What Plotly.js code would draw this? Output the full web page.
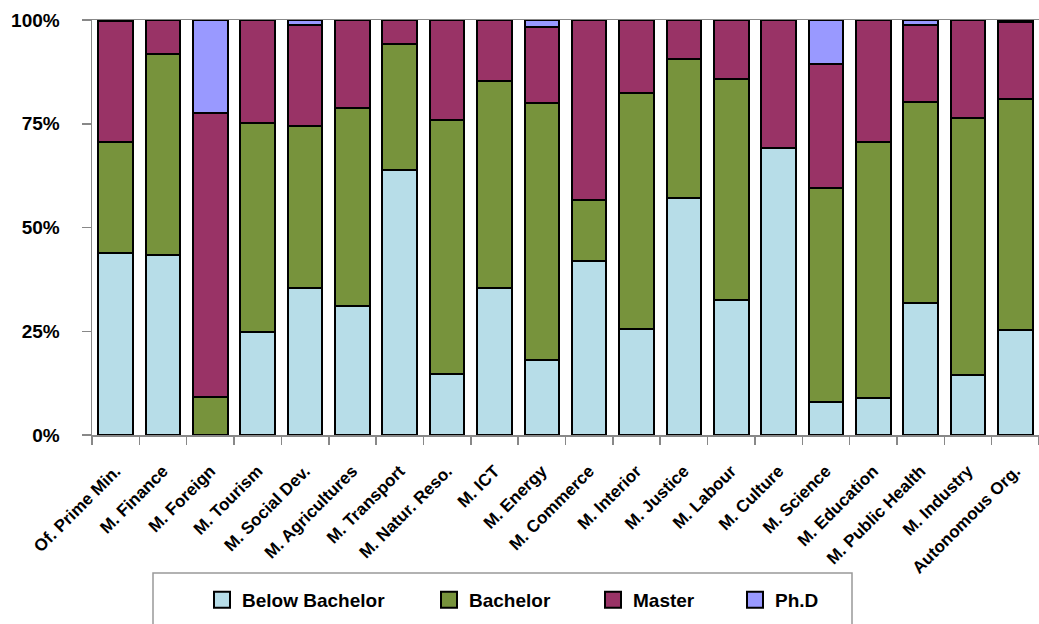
<!DOCTYPE html>
<html>
<head>
<meta charset="utf-8">
<script src="https://cdn.plot.ly/plotly-3.0.1.min.js"></script>
<style>html,body{margin:0;padding:0;background:#fff;}#chart{width:1039px;height:624px;}</style>
</head>
<body>
<div id="chart"></div>
<script>
const categories = ["Of. Prime Min.","M. Finance","M. Foreign","M. Tourism","M. Social Dev.","M. Agricultures","M. Transport","M. Natur. Reso.","M. ICT","M. Energy","M. Commerce","M. Interior","M. Justice","M. Labour","M. Culture","M. Science","M. Education","M. Public Health","M. Industry","Autonomous Org."];
const belowBachelor = [43.8,43.3,0,24.9,35.4,31.1,63.9,14.6,35.4,18.0,42.0,25.6,57.0,32.5,69.2,8.0,8.8,31.8,14.5,25.2];
const bachelor      = [26.8,48.6,9.1,50.3,39.1,47.7,30.4,61.3,50.0,62.1,14.7,56.9,33.7,53.4,0,51.5,61.8,48.4,61.9,55.7];
const master        = [29.1,8.1,68.4,24.8,24.4,21.2,5.7,24.1,14.6,18.2,43.3,17.5,9.3,14.1,30.8,30.0,29.4,18.7,23.6,18.6];
const phd           = [0.3,0,22.5,0,1.1,0,0,0,0,1.7,0,0,0,0,0,10.5,0,1.1,0,0.5];
const seriesNames = ["Below Bachelor","Bachelor","Master","Ph.D"];
const yTicks = [0,25,50,75,100];
const yTickText = ["0%","25%","50%","75%","100%"];

const colors = ["#B7DDE8","#77933C","#993366","#9999FF"];
const legendIds = ["legend","legend2","legend3","legend4"];
const seriesData = [belowBachelor, bachelor, master, phd];

const traces = [];
seriesData.forEach((vals, i) => {
  traces.push({
    type: "bar",
    x: categories,
    y: vals,
    name: seriesNames[i],
    showlegend: false,
    marker: {color: colors[i], line: {color: "#000", width: 2}},
    hoverinfo: "x+y+name"
  });
});
// legend-only entries
seriesNames.forEach((n, i) => {
  traces.push({
    type: "scatter",
    mode: "markers",
    x: [null], y: [null],
    name: n,
    legend: legendIds[i],
    marker: {symbol: "square", size: 16, color: colors[i], line: {color: "#000", width: 2}},
    hoverinfo: "skip"
  });
});

const fontFam = "Liberation Sans, Arial, sans-serif";
const legendX = [202, 429, 593, 735];
const plotL = 92, plotW = 947, plotT = 20, plotH = 415;
const legendY = (plotT + plotH - 600) / plotH;

const layout = {
  width: 1039, height: 624,
  margin: {l: plotL, r: 0, t: plotT, b: 624 - plotT - plotH, pad: 0},
  barmode: "stack",
  barnorm: "percent",
  bargap: 0.27,
  plot_bgcolor: "#fff",
  paper_bgcolor: "#fff",
  font: {family: fontFam, color: "#000"},
  xaxis: {
    type: "category",
    showline: true, linecolor: "#888", linewidth: 1.5, mirror: true,
    ticks: "outside", tickson: "boundaries", ticklen: 8, tickcolor: "#888", tickwidth: 1.5,
    tickangle: -45,
    ticklabelstandoff: 18,
    tickfont: {family: fontFam, size: 17, weight: "bold", color: "#000"},
    showgrid: false, zeroline: false, fixedrange: true
  },
  yaxis: {
    range: [0, 100],
    tickmode: "array",
    tickvals: yTicks,
    ticktext: yTickText,
    showline: true, linecolor: "#888", linewidth: 1.5,
    ticks: "outside", ticklen: 9, tickcolor: "#888", tickwidth: 1.5,
    ticklabelstandoff: 18,
    tickfont: {family: fontFam, size: 19, weight: "bold", color: "#000"},
    showgrid: false, zeroline: false, fixedrange: true
  },
  shapes: [{
    type: "rect", xref: "paper", yref: "paper",
    x0: (153 - plotL) / plotW, x1: (852 - plotL) / plotW,
    y0: (plotT + plotH - 573) / plotH, y1: -0.6,
    line: {color: "#999", width: 1.5}, fillcolor: "rgba(0,0,0,0)", layer: "below"
  }]
};
legendIds.forEach((id, i) => {
  layout[id] = {
    orientation: "h",
    x: (legendX[i] - plotL) / plotW, xanchor: "left",
    y: legendY, yanchor: "middle",
    bgcolor: "rgba(0,0,0,0)", borderwidth: 0,
    font: {family: fontFam, size: 19, weight: "bold", color: "#000"}
  };
});

Plotly.newPlot("chart", traces, layout, {displayModeBar: false, staticPlot: true});
</script>
</body>
</html>
